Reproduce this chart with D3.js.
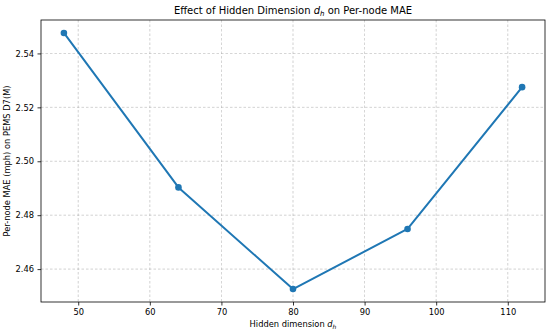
<!DOCTYPE html>
<html>
<head>
<meta charset="utf-8">
<script src="https://cdn.jsdelivr.net/npm/d3@7"></script>
<style>
  body { margin: 0; background: #fff; }
  svg text { font-family: "DejaVu Sans", sans-serif; fill: #000; }
  .grid line { stroke: #b0b0b0; stroke-dasharray: 2.5,2; stroke-width: 0.7; opacity: 0.8; }
  .axis path, .axis line { stroke: #000; stroke-width: 0.8; }
</style>
</head>
<body>
<div id="chart"></div>
<script>
const hiddenDims = [48, 64, 80, 96, 112];
const maeValues = [2.5476, 2.4903, 2.4526, 2.4749, 2.5275];
const xTicks = [50, 60, 70, 80, 90, 100, 110];
const yTicks = [2.46, 2.48, 2.50, 2.52, 2.54];

const width = 550, height = 332;
const margin = { top: 20, right: 5, bottom: 30, left: 41 };
const innerW = width - margin.left - margin.right;
const innerH = height - margin.top - margin.bottom;

const svg = d3.select("#chart").append("svg")
  .attr("width", width).attr("height", height);

const g = svg.append("g")
  .attr("transform", `translate(${margin.left},${margin.top})`);

const x = d3.scaleLinear().domain([44.8, 115.2]).range([0, innerW]);
const y = d3.scaleLinear().domain([2.4478, 2.5524]).range([innerH, 0]);

// grid
g.append("g").attr("class", "grid")
  .selectAll("line").data(xTicks).join("line")
  .attr("x1", d => x(d)).attr("x2", d => x(d))
  .attr("y1", 0).attr("y2", innerH);
g.append("g").attr("class", "grid")
  .selectAll("line").data(yTicks).join("line")
  .attr("y1", d => y(d)).attr("y2", d => y(d))
  .attr("x1", 0).attr("x2", innerW);

// axes
const xAxis = d3.axisBottom(x).tickValues(xTicks).tickSize(3.5).tickPadding(3.5);
const yAxis = d3.axisLeft(y).tickValues(yTicks).tickSize(3.5).tickPadding(3.5)
  .tickFormat(d3.format(".2f"));

g.append("g").attr("class", "axis")
  .attr("transform", `translate(0,${innerH})`)
  .call(xAxis)
  .call(s => s.select(".domain").remove())
  .selectAll("text").style("font-size", "8.3px");

g.append("g").attr("class", "axis")
  .call(yAxis)
  .call(s => s.select(".domain").remove())
  .selectAll("text").style("font-size", "8.3px");

// frame
g.append("rect")
  .attr("width", innerW).attr("height", innerH)
  .attr("fill", "none").attr("stroke", "#000").attr("stroke-width", 0.8);

// line
const line = d3.line().x((d, i) => x(hiddenDims[i])).y(d => y(d));
g.append("path")
  .datum(maeValues)
  .attr("fill", "none")
  .attr("stroke", "#1f77b4")
  .attr("stroke-width", 2)
  .attr("stroke-linejoin", "round")
  .attr("d", line);

g.selectAll(".dot").data(maeValues).join("circle")
  .attr("class", "dot")
  .attr("cx", (d, i) => x(hiddenDims[i]))
  .attr("cy", d => y(d))
  .attr("r", 3.3)
  .attr("fill", "#1f77b4");

// title
const title = svg.append("text")
  .attr("x", margin.left + innerW / 2).attr("y", 14)
  .attr("text-anchor", "middle")
  .style("font-size", "10px");
title.append("tspan").text("Effect of Hidden Dimension ");
title.append("tspan").attr("font-style", "italic").text("d");
title.append("tspan").attr("font-style", "italic").attr("dy", 2).style("font-size", "7px").text("h");
title.append("tspan").attr("dy", -2).text(" on Per-node MAE");

// x label
const xl = svg.append("text")
  .attr("x", margin.left + innerW / 2).attr("y", 327)
  .attr("text-anchor", "middle")
  .style("font-size", "8.3px");
xl.append("tspan").text("Hidden dimension ");
xl.append("tspan").attr("font-style", "italic").text("d");
xl.append("tspan").attr("font-style", "italic").attr("dy", 1.5).style("font-size", "6px").text("h");

// y label
svg.append("text")
  .attr("transform", `translate(10,${margin.top + innerH / 2}) rotate(-90)`)
  .attr("text-anchor", "middle")
  .style("font-size", "8.3px")
  .text("Per-node MAE (mph) on PEMS D7(M)");
</script>
</body>
</html>
